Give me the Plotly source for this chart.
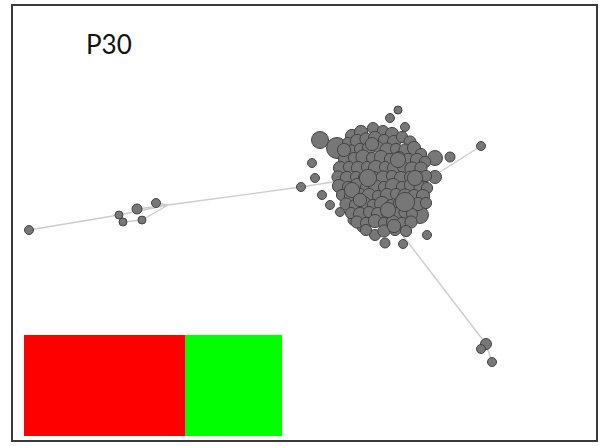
import plotly.graph_objects as go

# Node layout (x, y in layout units, y grows downward) and node radius
core_x = [352, 361, 383, 392,
          348, 357, 366, 375, 384, 394, 402, 410,
          351, 360, 369, 378, 387, 396, 405, 414, 421,
          345, 354, 363, 372, 381, 390, 399, 408, 417, 425,
          340, 349, 358, 367, 376, 385, 394, 403, 412, 421,
          338, 347, 356, 365, 374, 383, 392, 401, 410, 419, 426,
          339, 348, 357, 366, 375, 384, 393, 402, 411, 420, 427,
          342, 351, 360, 369, 378, 387, 396, 405, 414, 423,
          346, 355, 364, 373, 382, 391, 400, 409, 418, 426,
          351, 360, 369, 378, 387, 396, 405, 412,
          357, 366, 375, 384, 393, 402, 411,
          366, 384, 395, 406,
          368, 405, 352, 398, 372, 344, 388, 415, 360, 394]
core_y = [136, 132, 131, 134,
          143, 141, 139, 138, 140, 142, 137, 142,
          151, 149, 148, 147, 150, 149, 150, 148, 154,
          159, 158, 157, 158, 157, 159, 158, 159, 160, 162,
          168, 167, 168, 167, 168, 167, 168, 167, 169, 168,
          177, 178, 177, 178, 177, 178, 176, 178, 177, 178, 176,
          186, 187, 185, 187, 186, 187, 186, 187, 185, 187, 188,
          195, 196, 194, 195, 196, 195, 194, 196, 195, 196,
          204, 205, 203, 205, 204, 205, 203, 205, 204, 203,
          213, 214, 212, 214, 213, 214, 212, 214,
          222, 223, 221, 223, 222, 223, 222,
          230, 231, 230, 231,
          178, 202, 190, 160, 144, 150, 210, 178, 200, 226]
core_r = [5, 5, 4, 5,
          4, 5, 4.5, 5, 4, 5, 4, 4.5,
          4.5, 4, 5, 4, 5.5, 4, 4.5, 5, 4,
          5, 4, 5.5, 4, 5, 4, 5, 4, 5, 4,
          5, 4, 5, 4, 6, 4, 5, 4, 5.5, 4.5,
          4.5, 5, 4, 5, 4, 5.5, 4, 5, 4, 5, 4,
          5, 4, 5, 4, 5, 4, 6, 4, 5, 4.5, 4,
          4, 5, 4, 5, 4, 5, 4, 5.5, 4, 5,
          4.5, 4, 5, 4, 6, 4, 5, 4, 5, 4,
          4, 5, 4, 5, 4, 5, 4.5, 4,
          4.5, 4, 5, 4, 5, 4, 4.5,
          4, 4.5, 4, 4,
          7, 8, 6, 6, 5, 5, 6, 6, 5, 5]
# Extra radius so the dense core nodes overlap
core_pad = 1.6

# Nodes around the rim of the main component
rim_x = [398, 390, 405, 373, 320, 337, 435, 450, 435, 312, 315, 322, 330, 340,
         420, 427, 403, 385, 375, 353, 362]
rim_y = [110, 118, 127, 128, 140, 148, 158, 157, 177, 163, 178, 195, 205, 212,
         215, 235, 244, 243, 235, 220, 227]
rim_r = [4, 4.5, 4.5, 5.5, 8.5, 10.5, 7.5, 5, 6.5, 4.5, 4.5, 4.5, 4.5, 4.5,
         8.5, 4.5, 4.5, 5, 5.5, 5, 5]

# Peripheral nodes: left chain, right spur, lower spur
out_x = [29, 119, 123, 137, 142, 156, 301, 481, 486, 481, 492]
out_y = [230, 215, 222, 209, 220, 203, 187, 146, 344, 349, 362]
out_r = [4.5, 4, 4, 5, 4, 4.5, 4.5, 4.5, 5.5, 4.5, 4.5]

# Edges as (x0, y0, x1, y1)
edges = [(29, 230, 119, 215), (119, 215, 168, 205), (168, 205, 301, 187),
         (301, 187, 345, 180), (137, 209, 168, 205), (142, 220, 168, 205),
         (123, 222, 142, 220), (156, 203, 168, 205),
         (481, 146, 440, 172), (397, 228, 486, 344), (486, 344, 492, 362)]

# Share of the two groups in the bottom bar
group_names = ["A", "B"]
group_share = [0.625, 0.375]
group_colors = ["#ff0000", "#00ff00"]

fig = go.Figure()

ex, ey = [], []
for x0, y0, x1, y1 in edges:
    ex += [x0, x1, None]
    ey += [y0, y1, None]
fig.add_trace(go.Scatter(x=ex, y=ey, mode="lines",
                         line=dict(color="#cccccc", width=1.4),
                         hoverinfo="skip", showlegend=False))

node_x = out_x + rim_x + core_x
node_y = out_y + rim_y + core_y
node_r = out_r + rim_r + [r + core_pad for r in core_r]
fig.add_trace(go.Scatter(
    x=node_x, y=node_y, mode="markers",
    marker=dict(size=[2 * r for r in node_r], color="#777777",
                line=dict(color="#444444", width=1), opacity=1),
    hoverinfo="skip", showlegend=False))

for name, share, col in zip(group_names, group_share, group_colors):
    fig.add_trace(go.Bar(x=[share], y=[0], orientation="h", name=name,
                         marker=dict(color=col, line=dict(width=0)),
                         width=1, xaxis="x2", yaxis="y2",
                         hoverinfo="skip", showlegend=False))

W, H = 603, 446
fig.update_layout(
    width=W, height=H, margin=dict(l=0, r=0, t=0, b=0),
    paper_bgcolor="white", plot_bgcolor="white",
    barmode="stack", bargap=0,
    xaxis=dict(range=[0, W], visible=False, fixedrange=True),
    yaxis=dict(range=[H, 0], visible=False, fixedrange=True),
    xaxis2=dict(domain=[24 / W, 282 / W], range=[0, 1], visible=False,
                anchor="y2"),
    yaxis2=dict(domain=[(H - 436) / H, (H - 335) / H], range=[-0.5, 0.5],
                visible=False, anchor="x2"),
    shapes=[dict(type="rect", xref="x", yref="y", x0=12, x1=597, y0=5, y1=441,
                 line=dict(color="#3a3a3a", width=2), fillcolor="rgba(0,0,0,0)")],
    annotations=[dict(text="P30", x=109, y=44, xref="x", yref="y",
                      showarrow=False,
                      font=dict(family="Lato", size=26, color="#111111"))],
)

fig.write_html("out.html")
